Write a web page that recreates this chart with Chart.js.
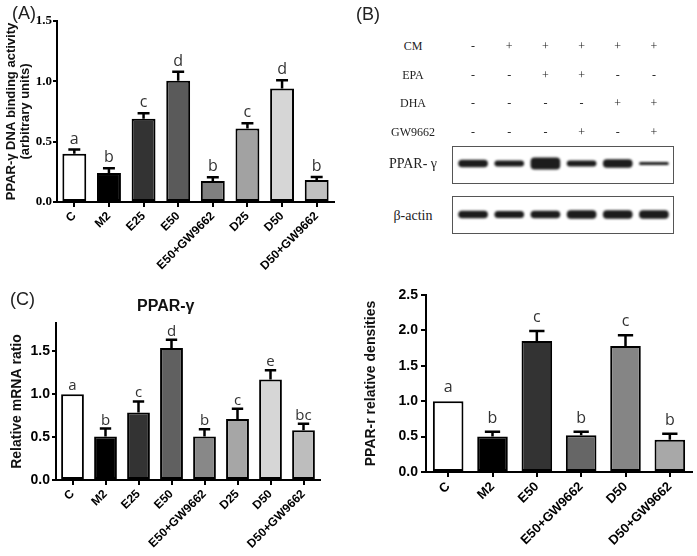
<!DOCTYPE html>
<html>
<head>
<meta charset="utf-8">
<script src="https://cdn.jsdelivr.net/npm/chart.js@4.4.1/dist/chart.umd.min.js"></script>
<style>
  body { margin: 0; background: #fff; }
  #page { position: relative; width: 697px; height: 556px; overflow: hidden; background: #fff; font-family: "Liberation Sans", Arial, sans-serif; }
  canvas { position: absolute; }
  .txt { position: absolute; white-space: nowrap; color: #222; line-height: 1; }
  .panel { font-size: 18px; }
  .serif { font-family: "Liberation Serif", "Times New Roman", serif; color: #222; }
  .box { position: absolute; border: 1px solid #555; box-sizing: border-box; }
</style>
</head>
<body>
<div id="page">
  <canvas id="chartA" width="345" height="290" style="left:0;top:0"></canvas>
  <canvas id="chartC" width="345" height="256" style="left:0;top:300px"></canvas>
  <canvas id="chartD" width="345" height="276" style="left:352px;top:280px"></canvas>
  <div class="box" style="left:452px;top:146px;width:222px;height:38px"></div>
  <div class="box" style="left:452px;top:196px;width:222px;height:38px"></div>
  <canvas id="blot" width="217" height="87" style="left:455px;top:146px"></canvas>

  <div class="txt panel" style="left:12px;top:4px">(A)</div>
  <div class="txt panel" style="left:356px;top:5px">(B)</div>
  <div class="txt panel" style="left:10px;top:290px">(C)</div>
  <div class="txt" style="left:137px;top:298px;font-size:16px;font-weight:bold;color:#111">PPAR-γ</div>
  <div id="blotText"></div>
</div>
<script>
// panel A - DNA binding activity
const groupsA = ['C', 'M2', 'E25', 'E50', 'E50+GW9662', 'D25', 'D50', 'D50+GW9662'];
const bindingA = [0.40, 0.24, 0.69, 1.005, 0.174, 0.61, 0.94, 0.182];
const bindingErrA = [0.035, 0.04, 0.045, 0.075, 0.031, 0.042, 0.07, 0.025];
const lettersA = ['a', 'b', 'c', 'd', 'b', 'c', 'd', 'b'];

// panel C - relative mRNA ratio
const groupsC = ['C', 'M2', 'E25', 'E50', 'E50+GW9662', 'D25', 'D50', 'D50+GW9662'];
const mrnaC = [1.0, 0.506, 0.786, 1.54, 0.506, 0.71, 1.17, 0.58];
const mrnaErrC = [0, 0.094, 0.13, 0.095, 0.086, 0.12, 0.11, 0.076];
const lettersC = ['a', 'b', 'c', 'd', 'b', 'c', 'e', 'bc'];

// panel D - western blot densities
const groupsD = ['C', 'M2', 'E50', 'E50+GW9662', 'D50', 'D50+GW9662'];
const densD = [1.0, 0.50, 1.85, 0.52, 1.78, 0.455];
const densErrD = [0, 0.07, 0.14, 0.05, 0.15, 0.085];
const lettersD = ['a', 'b', 'c', 'b', 'c', 'b'];

// panel B - treatment table and band signal
const blotRows = ['CM', 'EPA', 'DHA', 'GW9662'];
const blotSigns = [
  ['-', '+', '+', '+', '+', '+'],
  ['-', '-', '+', '+', '-', '-'],
  ['-', '-', '-', '-', '+', '+'],
  ['-', '-', '-', '+', '-', '+']
];
const pparBand = [7.5, 6, 12, 6, 8.5, 3];
const actinBand = [7.5, 7, 7.5, 8.5, 8.5, 8.5];

const coloursA = ['#ffffff', '#000000', '#333333', '#5a5a5a', '#808080', '#a2a2a2', '#d6d6d6', '#c0c0c0'];
const coloursC = ['#ffffff', '#000000', '#333333', '#606060', '#888888', '#a6a6a6', '#d6d6d6', '#bdbdbd'];
const coloursD = ['#ffffff', '#000000', '#333333', '#666666', '#858585', '#a8a8a8'];

const errBars = {
  id: 'errBars',
  afterDatasetsDraw(chart, args, opts) {
    const { ctx } = chart;
    const y = chart.scales.y;
    const meta = chart.getDatasetMeta(0);
    const values = chart.data.datasets[0].data;
    ctx.save();
    ctx.strokeStyle = '#000';
    ctx.lineWidth = 2.5;
    ctx.fillStyle = '#333';
    ctx.font = opts.letterFont;
    ctx.textAlign = 'center';
    ctx.textBaseline = 'alphabetic';
    meta.data.forEach((bar, i) => {
      const top = y.getPixelForValue(values[i] + opts.errors[i]);
      if (opts.errors[i] > 0) {
        const cap = bar.width * 0.25;
        ctx.beginPath();
        ctx.moveTo(bar.x, bar.y);
        ctx.lineTo(bar.x, top);
        ctx.moveTo(bar.x - cap, top);
        ctx.lineTo(bar.x + cap, top);
        ctx.stroke();
      }
      ctx.fillText(opts.letters[i], bar.x, top - opts.gap);
    });
    ctx.restore();
  }
};

function makeBars(id, cfg) {
  const stepOk = v => Math.abs(v / 0.5 - Math.round(v / 0.5)) < 1e-6;
  return new Chart(document.getElementById(id), {
    type: 'bar',
    data: {
      labels: cfg.labels,
      datasets: [{
        data: cfg.values,
        backgroundColor: cfg.colours,
        borderColor: '#000',
        borderWidth: 2,
        borderSkipped: false,
        categoryPercentage: 1,
        barPercentage: 0.69
      }]
    },
    options: {
      responsive: false,
      animation: false,
      events: [],
      layout: { padding: cfg.padding },
      plugins: {
        legend: { display: false },
        tooltip: { enabled: false },
        errBars: { errors: cfg.errors, letters: cfg.letters, gap: cfg.gap, letterFont: cfg.letterFont }
      },
      scales: {
        x: {
          afterFit: s => { s.height = cfg.xHeight; },
          border: { display: true, color: '#000', width: 2 },
          grid: { display: true, drawOnChartArea: false, drawTicks: true, tickLength: 5, color: '#000', lineWidth: 2, offset: false },
          ticks: {
            color: '#000',
            font: { family: 'Liberation Sans', weight: 'bold', size: cfg.xFont },
            minRotation: 45, maxRotation: 45, autoSkip: false, padding: 2
          }
        },
        y: {
          min: 0,
          max: cfg.yMax,
          afterFit: s => { s.width = cfg.yWidth; },
          // keep only the 0.5 steps, the axis line itself runs a little higher in panel C
          afterBuildTicks: s => { s.ticks = s.ticks.filter(t => stepOk(t.value)).map(t => ({ value: t.value })); },
          border: { display: true, color: '#000', width: 2 },
          grid: { display: true, drawOnChartArea: false, drawTicks: true, tickLength: cfg.tickLen, color: '#000', lineWidth: 2 },
          ticks: {
            stepSize: 0.5,
            color: '#000',
            padding: cfg.tickPad,
            font: cfg.tickFont,
            callback: v => Number(v).toFixed(1)
          },
          title: {
            display: true,
            text: cfg.title,
            color: '#111',
            font: cfg.titleFont,
            padding: { top: cfg.titlePad, bottom: 0 }
          }
        }
      }
    },
    plugins: [errBars]
  });
}

makeBars('chartA', {
  labels: groupsA, values: bindingA, errors: bindingErrA, letters: lettersA, colours: coloursA,
  padding: { left: 0, top: 21, right: 11, bottom: 0 },
  xHeight: 88, yWidth: 57, yMax: 1.5, xFont: 12, tickLen: 4, tickPad: 1,
  tickFont: { family: 'Liberation Serif', weight: 'bold', size: 13 },
  title: ['PPAR-γ DNA binding activity', '(arbitrary units)'],
  titleFont: { family: 'Liberation Sans', weight: 'bold', size: 13, lineHeight: 1.1 },
  titlePad: 4, gap: 6, letterFont: '16px "Open Sans"'
});

makeBars('chartC', {
  labels: groupsC, values: mrnaC, errors: mrnaErrC, letters: lettersC, colours: coloursC,
  padding: { left: 0, top: 23, right: 25, bottom: 0 },
  xHeight: 76, yWidth: 56, yMax: 1.83, xFont: 12, tickLen: 4, tickPad: 2,
  tickFont: { family: 'Liberation Sans', weight: 'bold', size: 14 },
  title: 'Relative mRNA ratio',
  titleFont: { family: 'Liberation Sans', weight: 'bold', size: 14 },
  titlePad: 9, gap: 4, letterFont: '15px "Open Sans"'
});

makeBars('chartD', {
  labels: groupsD, values: densD, errors: densErrD, letters: lettersD, colours: coloursD,
  padding: { left: 0, top: 15, right: 5, bottom: 0 },
  xHeight: 84, yWidth: 74, yMax: 2.5, xFont: 13, tickLen: 5, tickPad: 3,
  tickFont: { family: 'Liberation Sans', weight: 'bold', size: 14 },
  title: 'PPAR-r relative densities',
  titleFont: { family: 'Liberation Sans', weight: 'bold', size: 14 },
  titlePad: 11, gap: 9, letterFont: '16px "Open Sans"'
});

// western blot bands as floating bars, rows measured from top of the blot area
const pparRow = 17.5, actinRow = 68.5;
const blurPlugin = {
  id: 'blur',
  beforeDatasetsDraw(chart) { chart.ctx.save(); chart.ctx.filter = 'blur(1.2px)'; },
  afterDatasetsDraw(chart) { chart.ctx.restore(); }
};
const lanes = blotSigns[0].map((_, i) => 'lane ' + (i + 1));
const blot = new Chart(document.getElementById('blot'), {
  type: 'bar',
  data: {
    labels: lanes,
    datasets: [
      { data: pparBand.map(t => [pparRow - t / 2, pparRow + t / 2]), backgroundColor: '#1c1c1c' },
      { data: actinBand.map(t => [actinRow - t / 2, actinRow + t / 2]), backgroundColor: '#1c1c1c' }
    ]
  },
  options: {
    responsive: false,
    animation: false,
    events: [],
    layout: { padding: 0 },
    datasets: { bar: { grouped: false, categoryPercentage: 1, barPercentage: 0.82, borderRadius: 4, borderSkipped: false } },
    plugins: { legend: { display: false }, tooltip: { enabled: false } },
    scales: {
      x: { display: false },
      y: { display: false, reverse: true, min: 0, max: 87 }
    }
  },
  plugins: [blurPlugin]
});

// treatment table above the blot
const rowY = [40, 69, 97, 126];
const holder = document.getElementById('blotText');
const canvasLeft = 455;
blotRows.forEach((name, r) => {
  const lab = document.createElement('div');
  lab.className = 'txt serif';
  lab.style.cssText = `left:373px;width:80px;text-align:center;top:${rowY[r]}px;font-size:12px`;
  lab.textContent = name;
  holder.appendChild(lab);
  blotSigns[r].forEach((s, c) => {
    const x = canvasLeft + blot.scales.x.getPixelForValue(c);
    const d = document.createElement('div');
    d.className = 'txt serif';
    d.style.cssText = `left:${x - 10}px;width:20px;text-align:center;top:${rowY[r]}px;font-size:12px`;
    d.textContent = s;
    holder.appendChild(d);
  });
});
[['PPAR- γ', 157], ['β-actin', 209]].forEach(([t, y]) => {
  const d = document.createElement('div');
  d.className = 'txt serif';
  d.style.cssText = `left:373px;width:80px;text-align:center;top:${y}px;font-size:14px`;
  d.textContent = t;
  holder.appendChild(d);
});
</script>
</body>
</html>
